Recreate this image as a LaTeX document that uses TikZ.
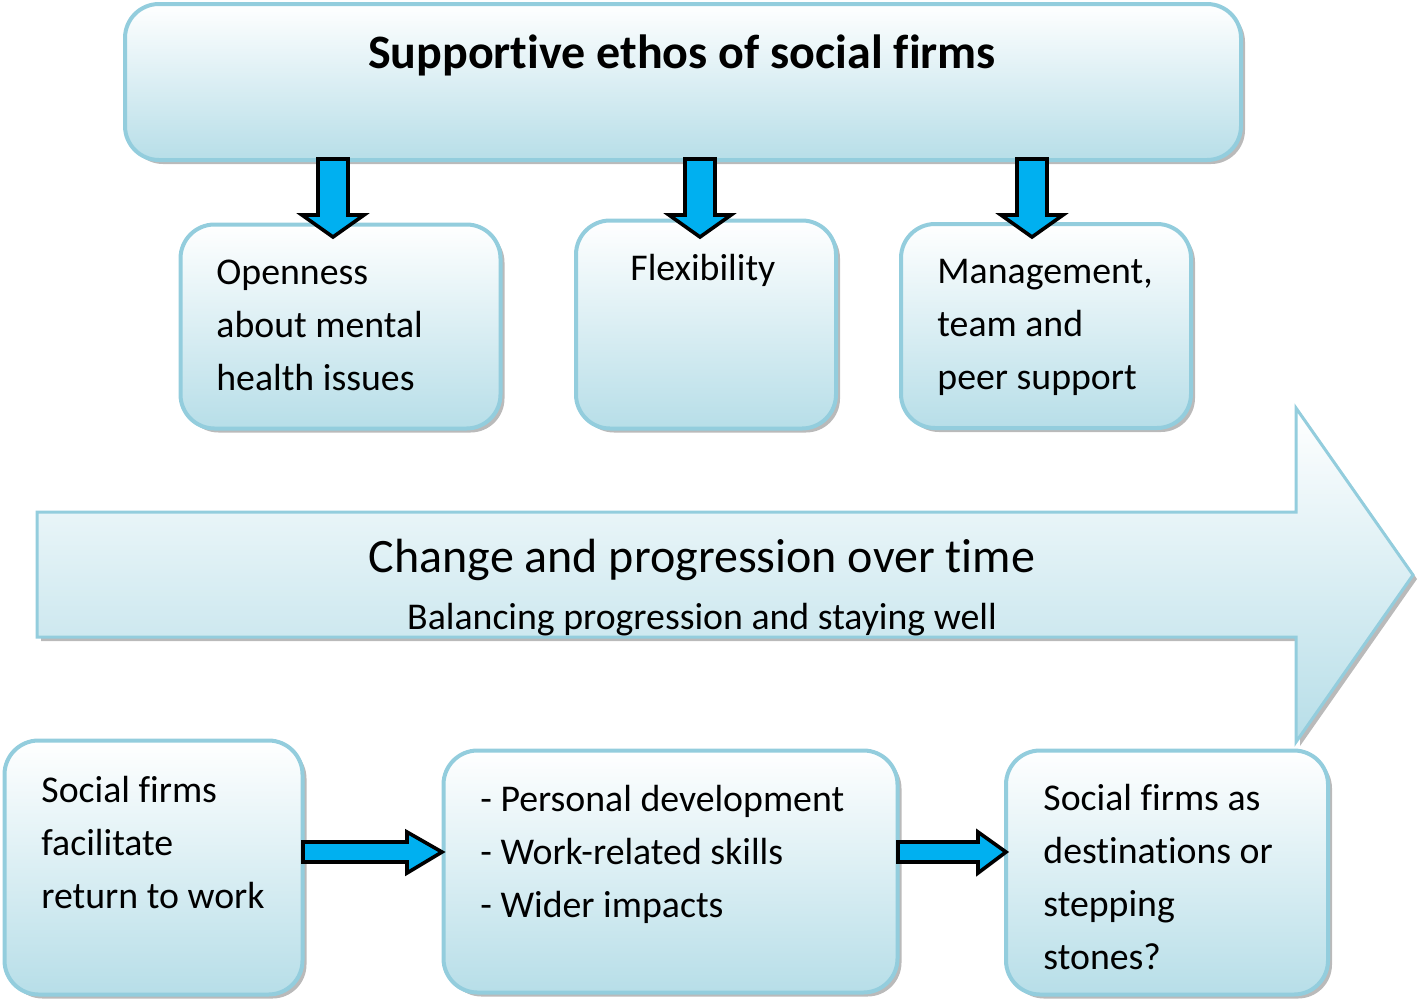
\documentclass[tikz,border=0pt]{standalone}
\usepackage{fontspec}
\setmainfont{Carlito}[Ligatures={NoCommon}]
\usetikzlibrary{shadows}
\definecolor{boxline}{HTML}{93CDDD}
\definecolor{boxfill}{HTML}{B7DEE8}
\definecolor{arrowblue}{HTML}{00B0F0}
\begin{document}
\begin{tikzpicture}[x=0.5pt,y=-0.5pt,
    box/.style={draw=boxline,line width=2pt,rounded corners=17pt,top color=white,bottom color=boxfill,
      drop shadow={shadow xshift=2pt,shadow yshift=-2pt,fill=black!60,opacity=.45},inner sep=0pt},
    txt/.style={align=left,inner sep=0pt,font=\fontsize{18.9}{26.5}\selectfont},
    blockarrow/.style={fill=arrowblue,draw=black,line width=1.8pt,line join=miter}]
    \useasboundingbox (0,0) rectangle (1418,1002);
    % top box and the three supports
    \node[box,minimum width=558pt,minimum height=78pt] (ethos) at (683,82) {};
    \node[font=\fontsize{24}{28}\selectfont\bfseries] (ethostitle) at (682,55) {Supportive ethos of social firms};
    \node[box,minimum width=160pt,minimum height=102pt] (openbox) at (340.5,326.5) {};
    \node[box,minimum width=130pt,minimum height=104pt] (flexbox) at (706,324.5) {};
    \node[box,minimum width=145pt,minimum height=102pt] (mgmtbox) at (1046,326) {};
    \node[txt,anchor=west] (opentxt) at (216,325) {Openness\\about mental\\health issues};
    \node[txt,anchor=west] (flextxt) at (630,270) {Flexibility};
    \node[txt,anchor=west] (mgmttxt) at (937,327) {Management,\\team and\\peer support};
    \foreach \ax in {333,700,1032}
      \draw[blockarrow] (\ax-15,159) -- (\ax+15,159) -- (\ax+15,215) -- (\ax+31,215)
        -- (\ax,237) -- (\ax-31,215) -- (\ax-15,215) -- cycle;
    % big arrow
    \draw[box,rounded corners=0pt,line width=1.5pt] (37,512) -- (1296,512) -- (1296,408) -- (1413,575)
      -- (1296,742) -- (1296,637) -- (37,637) -- cycle;
    \node[font=\fontsize{24}{28}\selectfont] (changetxt) at (702,560) {Change and progression over time};
    \node[font=\fontsize{18.9}{22}\selectfont] (balancetxt) at (702,620) {Balancing progression and staying well};
    % bottom row
    \node[box,minimum width=149pt,minimum height=127pt] (returnbox) at (153.5,867.5) {};
    \node[box,minimum width=227pt,minimum height=121pt] (skillsbox) at (670.5,871.5) {};
    \node[box,minimum width=161pt,minimum height=122pt] (stonebox) at (1167,872.5) {};
    \node[txt,anchor=west] (returntxt) at (41,842) {Social firms\\facilitate\\return to work};
    \node[txt,anchor=west] (skillstxt) at (480,854) {- Personal development\\- Work-related skills\\- Wider impacts};
    \node[txt,anchor=west] (stonetxt) at (1043,877) {Social firms as\\destinations or\\stepping\\stones?};
    \draw[blockarrow] (303,842) -- (407,842) -- (407,832) -- (442,852) -- (407,873) -- (407,862) -- (303,862) -- cycle;
    \draw[blockarrow] (898,842) -- (978,842) -- (978,832) -- (1006,852) -- (978,873) -- (978,862) -- (898,862) -- cycle;
\end{tikzpicture}
\end{document}
